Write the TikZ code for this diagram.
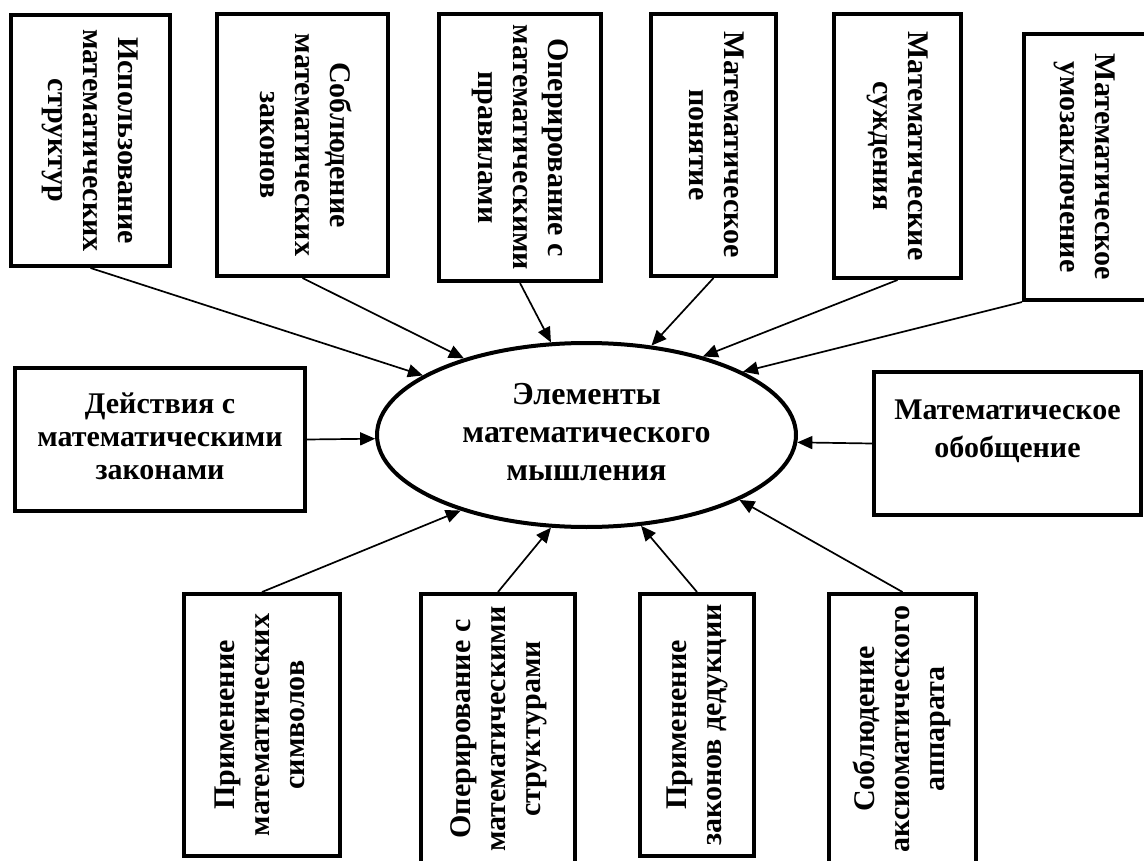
\documentclass[tikz,border=0pt]{standalone}
\usepackage{fontspec}
\setmainfont{Liberation Serif}
\usepackage{graphicx}
\usetikzlibrary{shapes.geometric,arrows.meta}
\newcommand\mlines[1]{\begin{tabular}{@{}c@{}}#1\end{tabular}}
\tikzset{
  box/.style={draw, line width=4pt, inner sep=0pt, fill=white, font=\bfseries\fontsize{30}{35}\selectfont},
  hbox/.style={box, font=\bfseries\fontsize{30}{33}\selectfont},
  oval/.style={draw, ellipse, line width=4pt, inner sep=0pt, font=\bfseries\fontsize{32}{38}\selectfont},
  arr/.style={line width=1.7pt, -{Triangle[length=15pt, width=13pt]}}
}
\begin{document}
\begin{tikzpicture}[x=1pt,y=1pt]
\useasboundingbox (0,0) rectangle (1144,-861);
\node[oval, minimum width=419pt, minimum height=184pt] (e) at (586.5,-435)
  {\mlines{Элементы\\математического\\мышления}};
% top boxes
\node[box, minimum width=159pt, minimum height=251pt] (b1) at (90.5,-140.5)
  {\rotatebox{-90}{\mlines{Использование\\математических\\структур}}};
\node[box, minimum width=171pt, minimum height=262pt] (b2) at (302.5,-145)
  {\rotatebox{-90}{\mlines{Соблюдение\\математических\\законов}}};
\node[box, minimum width=162pt, minimum height=267pt] (b3) at (520,-147.5)
  {\rotatebox{-90}{\mlines{Оперирование с\\математическими\\правилами}}};
\node[box, minimum width=125pt, minimum height=262pt] (b4) at (713.5,-145)
  {\rotatebox{-90}{\mlines{Математическое\\понятие}}};
\node[box, minimum width=127pt, minimum height=264pt] (b5) at (897.5,-146)
  {\rotatebox{-90}{\mlines{Математические\\суждения}}};
\node[box, minimum width=122pt, minimum height=266pt] (b6) at (1085,-167)
  {\rotatebox{-90}{\mlines{Математическое\\умозаключение}}};
% side boxes
\node[hbox, minimum width=290pt, minimum height=143pt] (bl) at (160,-439.5)
  {\mlines{Действия с\\математическими\\законами}};
\node[box, minimum width=267pt, minimum height=143pt, font=\bfseries\fontsize{30}{38}\selectfont] (br) at (1007.5,-443.5)
  {\mlines{Математическое\\обобщение\\[26pt]}};
% bottom boxes
\node[box, minimum width=156pt, minimum height=262pt] (b7) at (262,-725)
  {\rotatebox{90}{\mlines{Применение\\математических\\символов}}};
\node[box, minimum width=154pt, minimum height=270pt] (b8) at (498,-729)
  {\rotatebox{90}{\mlines{Оперирование с\\математическими\\структурами}}};
\node[box, minimum width=114pt, minimum height=262pt] (b9) at (697,-725)
  {\rotatebox{90}{\mlines{Применение\\законов дедукции}}};
\node[box, minimum width=147pt, minimum height=270pt] (b10) at (902.5,-729)
  {\rotatebox{90}{\mlines{Соблюдение\\аксиоматического\\аппарата}}};
% connectors
\draw[arr] (b1.south) -- (e.160.3);
\draw[arr] (b2.south) -- (e.148.7);
\draw[arr] (b3.south) -- (e.111.9);
\draw[arr] (b4.south) -- (e.54);
\draw[arr] (b5.south) -- (e.34);
\draw[arr] (b6.south west) -- (e.22.6);
\draw[arr] (bl.east) -- (e.181);
\draw[arr] (br.west) -- (e.-2);
\draw[arr] (b7.north) -- (e.211.7);
\draw[arr] (b8.north) -- (e.249.6);
\draw[arr] (b9.north) -- (e.301.3);
\draw[arr] (b10.north) -- (e.337);
\end{tikzpicture}
\end{document}
